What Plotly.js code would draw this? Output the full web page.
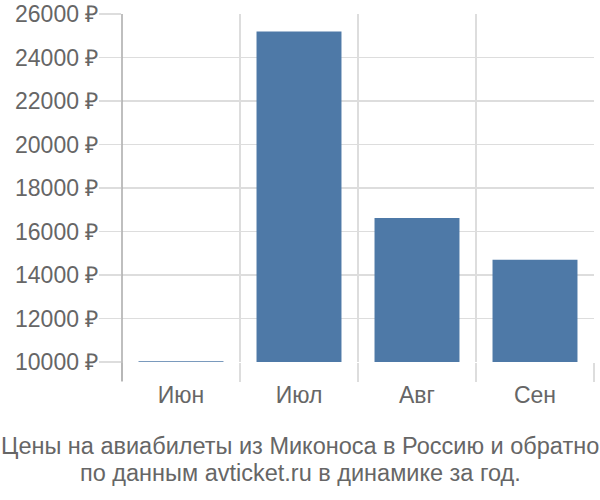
<!DOCTYPE html>
<html>
<head>
<meta charset="utf-8">
<script src="https://cdn.plot.ly/plotly-3.0.1.min.js"></script>
<style>
  html, body { margin: 0; padding: 0; background: #fff; }
  #chart { width: 600px; height: 500px; }
</style>
</head>
<body>
<div id="chart"></div>
<script>
// ---- data --------------------------------------------------------------------
const MONTHS = ['Июн', 'Июл', 'Авг', 'Сен'];
const PRICES = [10040, 25200, 16620, 14700];
const Y_TICKS = [10000, 12000, 14000, 16000, 18000, 20000, 22000, 24000, 26000];
const TITLE_LINES = [
  'Цены на авиабилеты из Миконоса в Россию и обратно',
  'по данным avticket.ru в динамике за год.',
];

const BAR_COLOR = '#4e79a7';
const GRID = '#dddddd';
const TEXT = '#666666';
const FONT = 'Liberation Sans, Arial, sans-serif';

// plot box in pixels, used to place the two caption lines under it
const M = { l: 122, r: 6, t: 14, b: 138 };
const PW = 600 - M.l - M.r, PH = 500 - M.t - M.b;
const CAPTION_Y = [446, 473];

const trace = {
  type: 'bar',
  x: MONTHS,
  y: PRICES,
  marker: { color: BAR_COLOR },
  hoverinfo: 'skip',
};

const layout = {
  width: 600, height: 500,
  paper_bgcolor: '#fff', plot_bgcolor: '#fff',
  margin: M,
  bargap: 0.28,
  showlegend: false,
  font: { family: FONT, color: TEXT },
  xaxis: {
    type: 'category',
    tickson: 'boundaries',
    ticks: 'outside', ticklen: 19, tickcolor: GRID, tickwidth: 1.5,
    ticklabelstandoff: 17,
    showgrid: true, gridcolor: GRID, gridwidth: 1.5,
    showline: false, zeroline: false,
    tickfont: { size: 23, color: TEXT },
  },
  yaxis: {
    range: [10000, 26000],
    tickvals: Y_TICKS,
    ticktext: Y_TICKS.map(v => v + ' ₽'),
    ticks: 'outside', ticklen: 22, tickcolor: GRID, tickwidth: 1.5,
    ticklabelstandoff: -4,
    showgrid: true, gridcolor: GRID, gridwidth: 1.5,
    zeroline: false, showline: false,
    tickfont: { size: 23, color: TEXT },
  },
  shapes: [{
    type: 'line', xref: 'paper', yref: 'paper',
    x0: 0, x1: 0, y0: -19 / PH, y1: 1,
    line: { color: '#aaaaaa', width: 1.5 },
  }],
  annotations: TITLE_LINES.map((t, i) => ({
    text: t, showarrow: false,
    xref: 'paper', yref: 'paper',
    x: (300 - M.l) / PW, xanchor: 'center',
    y: (500 - M.b - CAPTION_Y[i]) / PH, yanchor: 'middle',
    font: { size: 23.5, color: TEXT },
  })),
};

Plotly.newPlot('chart', [trace], layout, { displayModeBar: false, staticPlot: true });
</script>
</body>
</html>
